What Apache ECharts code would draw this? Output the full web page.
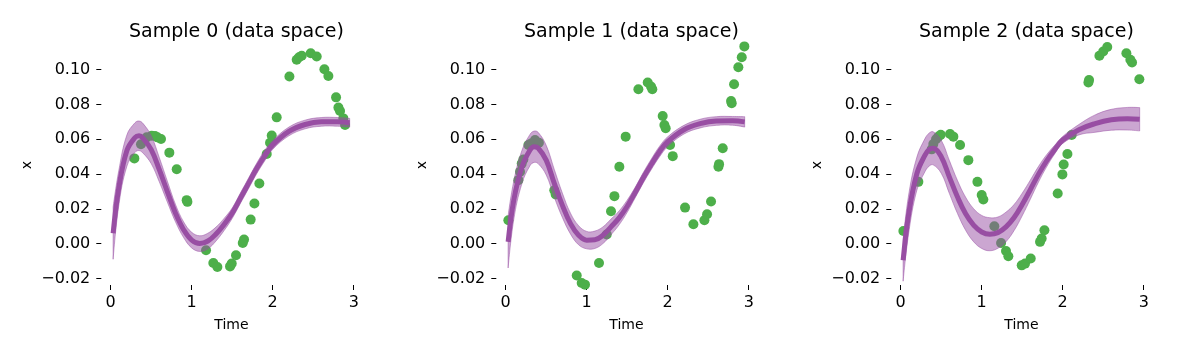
<!DOCTYPE html>
<html>
<head>
<meta charset="utf-8">
<script src="https://cdn.jsdelivr.net/npm/echarts@6/dist/echarts.min.js"></script>
<style>
  html, body { margin: 0; padding: 0; background: #fff; }
  #chart { width: 1200px; height: 338px; }
</style>
</head>
<body>
<div id="chart"></div>
<script>
// panel titles
const titles = ['Sample 0 (data space)', 'Sample 1 (data space)', 'Sample 2 (data space)']
// tick labels
const xTicks = [0, 1, 2, 3]
const yTicks = [-0.02, 0, 0.02, 0.04, 0.06, 0.08, 0.10]

// time grid of the fitted curve
const curveTime = [0.03, 0.1, 0.2, 0.3, 0.35, 0.4, 0.5, 0.6, 0.7, 0.8, 0.9, 1.0, 1.1, 1.2, 1.3, 1.4, 1.5, 1.6, 1.7, 1.8, 1.9, 2.0, 2.2, 2.4, 2.6, 2.8, 2.95]

// fitted mean + half width of the shaded band, per sample
const mean0 = [0.006, 0.032, 0.0535, 0.061, 0.062, 0.0605, 0.054, 0.0425, 0.0298, 0.0175, 0.008, 0.002, 0.0, 0.0015, 0.0055, 0.011, 0.0175, 0.026, 0.0345, 0.043, 0.0505, 0.0567, 0.0645, 0.0685, 0.070, 0.070, 0.0695]
const band0 = [0.015, 0.010, 0.009, 0.0085, 0.0085, 0.0085, 0.008, 0.007, 0.006, 0.005, 0.0045, 0.0045, 0.0045, 0.0045, 0.004, 0.0035, 0.003, 0.003, 0.003, 0.003, 0.003, 0.0025, 0.0025, 0.0025, 0.0025, 0.0025, 0.0025]
const mean1 = [0.001, 0.025, 0.044, 0.0538, 0.0557, 0.055, 0.048, 0.0346, 0.022, 0.0115, 0.0048, 0.002, 0.0022, 0.0048, 0.0096, 0.0148, 0.0215, 0.0295, 0.038, 0.0458, 0.053, 0.0586, 0.0655, 0.069, 0.0705, 0.0706, 0.070]
const band1 = [0.015, 0.011, 0.0095, 0.009, 0.009, 0.009, 0.0085, 0.008, 0.007, 0.006, 0.0055, 0.005, 0.005, 0.0048, 0.0045, 0.004, 0.0035, 0.003, 0.003, 0.003, 0.003, 0.0028, 0.0025, 0.0025, 0.0025, 0.0025, 0.003]
const mean2 = [-0.0096, 0.0175, 0.0403, 0.0509, 0.054, 0.0548, 0.050, 0.0384, 0.0269, 0.0173, 0.0106, 0.0067, 0.0054, 0.0063, 0.0096, 0.015, 0.0225, 0.031, 0.0398, 0.0475, 0.054, 0.0596, 0.0655, 0.069, 0.0712, 0.0718, 0.0715]
const band2 = [0.012, 0.011, 0.0095, 0.0095, 0.0095, 0.0095, 0.0095, 0.0095, 0.0095, 0.0095, 0.0095, 0.0095, 0.0095, 0.009, 0.0085, 0.0075, 0.0065, 0.0055, 0.0045, 0.0035, 0.0025, 0.002, 0.003, 0.005, 0.006, 0.0065, 0.0067]

// observations
const obsTime0 = [0.292, 0.374, 0.444, 0.506, 0.547, 0.576, 0.621, 0.724, 0.815, 0.938, 0.947, 1.177, 1.267, 1.317, 1.473, 1.494, 1.547, 1.63, 1.646, 1.728, 1.774, 1.835, 1.926, 1.967, 1.988, 2.049, 2.206, 2.296, 2.325, 2.358, 2.469, 2.543, 2.638, 2.687, 2.782, 2.811, 2.831, 2.872, 2.893]
const obsValue0 = [0.049, 0.0571, 0.0611, 0.062, 0.0619, 0.0611, 0.0601, 0.0523, 0.0428, 0.025, 0.024, -0.0038, -0.0111, -0.0134, -0.0131, -0.0115, -0.0067, 0.0004, 0.0023, 0.0138, 0.0231, 0.0346, 0.0515, 0.058, 0.0621, 0.0726, 0.0961, 0.1057, 0.1072, 0.108, 0.1095, 0.1076, 0.1003, 0.0964, 0.0841, 0.0782, 0.0763, 0.072, 0.0682]
const obsTime1 = [0.033, 0.156, 0.177, 0.198, 0.218, 0.28, 0.313, 0.362, 0.41, 0.60, 0.617, 0.877, 0.938, 0.979, 1.02, 1.152, 1.247, 1.30, 1.342, 1.403, 1.481, 1.638, 1.753, 1.794, 1.81, 1.938, 1.959, 1.975, 2.029, 2.062, 2.214, 2.317, 2.453, 2.486, 2.535, 2.626, 2.634, 2.679, 2.782, 2.79, 2.819, 2.872, 2.914, 2.946]
const obsValue1 = [0.0134, 0.0365, 0.0413, 0.046, 0.0484, 0.0567, 0.0576, 0.0596, 0.058, 0.0307, 0.0282, -0.0183, -0.0227, -0.0236, -0.024, -0.0111, 0.0052, 0.0186, 0.0273, 0.0442, 0.0615, 0.0888, 0.0926, 0.0903, 0.0888, 0.0734, 0.0682, 0.0663, 0.0567, 0.0503, 0.0207, 0.0111, 0.0134, 0.0169, 0.0242, 0.0442, 0.0457, 0.0548, 0.082, 0.0807, 0.0916, 0.1014, 0.1072, 0.1134]
const obsTime2 = [0.033, 0.218, 0.383, 0.403, 0.436, 0.465, 0.494, 0.609, 0.65, 0.733, 0.835, 0.947, 1.0, 1.02, 1.156, 1.239, 1.3, 1.329, 1.494, 1.535, 1.605, 1.72, 1.74, 1.774, 1.938, 1.996, 2.012, 2.058, 2.111, 2.317, 2.325, 2.453, 2.50, 2.55, 2.617, 2.65, 2.786, 2.835, 2.856, 2.946]
const obsValue2 = [0.0073, 0.0355, 0.0542, 0.0573, 0.060, 0.0615, 0.0626, 0.063, 0.0615, 0.0567, 0.048, 0.0355, 0.0279, 0.0254, 0.01, 0.0004, -0.0042, -0.0073, -0.0125, -0.0115, -0.0086, 0.001, 0.0029, 0.0077, 0.0288, 0.0398, 0.0455, 0.0515, 0.0624, 0.0926, 0.0941, 0.108, 0.1105, 0.113, 0.1143, 0.1143, 0.1095, 0.1057, 0.1041, 0.0945]

const means = [mean0, mean1, mean2]
const bands = [band0, band1, band2]
const obsTimes = [obsTime0, obsTime1, obsTime2]
const obsValues = [obsValue0, obsValue1, obsValue2]

const FONT = 'DejaVu Sans'
const GREEN = '#4daf4a'
const PURPLE = '#984ea3'
const BAND = 'rgba(152,78,163,0.5)'
const SMOOTH = 0.4

const chart = echarts.init(document.getElementById('chart'), null, { renderer: 'canvas' })

// same bezier smoothing as the line series, for the band outline (pixel points)
const smoothSegments = (pts, smooth) => {
    const n = pts.length
    const cps = pts.map((p, k) => {
        const prev = pts[Math.max(k - 1, 0)]
        const next = pts[Math.min(k + 1, n - 1)]
        const vx = next[0] - prev[0], vy = next[1] - prev[1]
        const d0 = Math.hypot(p[0] - prev[0], p[1] - prev[1])
        const d1 = Math.hypot(next[0] - p[0], next[1] - p[1])
        const r = d0 + d1 > 0 ? d1 / (d0 + d1) : 0.5
        const cin = k === n - 1 ? p : [p[0] - vx * smooth * (1 - r), p[1] - vy * smooth * (1 - r)]
        const cout = k === 0 ? p : [p[0] + vx * smooth * r, p[1] + vy * smooth * r]
        return [cin, cout]
    })
    let d = ''
    for (let k = 0; k < n - 1; k++) {
        const a = cps[k][1], b = cps[k + 1][0], q = pts[k + 1]
        d += ' C' + a[0] + ',' + a[1] + ' ' + b[0] + ',' + b[1] + ' ' + q[0] + ',' + q[1]
    }
    return d
}

const grids = [], xAxes = [], yAxes = [], series = [], titleList = []
const panelLeft = [101.3, 496.3, 891.3]
const panelWidth = 260.2

const fmtY = (v) => (v < 0 ? '\u2212' + Math.abs(v).toFixed(2) : v.toFixed(2))

panelLeft.forEach((left, i) => {
    grids.push({ left: left, width: panelWidth, top: 45, height: 240 })
    titleList.push({
        text: titles[i],
        left: left + panelWidth / 2,
        top: 18,
        textAlign: 'center',
        textStyle: { fontFamily: FONT, fontSize: 19, fontWeight: 'normal', color: '#000' }
    })
    xAxes.push({
        type: 'value', gridIndex: i, min: -0.116, max: 3.096,
        name: 'Time', nameLocation: 'middle', nameGap: 33,
        nameTextStyle: { fontFamily: FONT, fontSize: 14, color: '#000' },
        axisLine: { show: false, onZero: false },
        splitLine: { show: false },
        axisTick: { show: true, length: 5, customValues: xTicks, lineStyle: { color: '#000' } },
        axisLabel: { customValues: xTicks, margin: 10, fontFamily: FONT, fontSize: 16, color: '#000' }
    })
    yAxes.push({
        type: 'value', gridIndex: i, min: -0.0238, max: 0.1142,
        name: 'x', nameLocation: 'middle', nameGap: 67, nameRotate: 90,
        nameTextStyle: { fontFamily: FONT, fontSize: 14, color: '#000' },
        axisLine: { show: false, onZero: false },
        splitLine: { show: false },
        axisTick: { show: true, length: 5, customValues: yTicks, lineStyle: { color: '#000' } },
        axisLabel: { customValues: yTicks, margin: 11, fontFamily: FONT, fontSize: 16, color: '#000', formatter: fmtY }
    })
    // observations
    series.push({
        type: 'scatter', xAxisIndex: i, yAxisIndex: i, z: 2,
        symbolSize: 10, itemStyle: { color: GREEN, opacity: 1 },
        data: obsTimes[i].map((t, k) => [t, obsValues[i][k]])
    })
    // shaded band around the mean
    series.push({
        type: 'custom', xAxisIndex: i, yAxisIndex: i, z: 3, silent: true,
        data: [0],
        renderItem: (params, api) => {
            const upper = curveTime.map((t, k) => api.coord([t, means[i][k] + bands[i][k]]))
            const lower = curveTime.map((t, k) => api.coord([t, means[i][k] - bands[i][k]])).reverse()
            const d = 'M' + upper[0][0] + ',' + upper[0][1] + smoothSegments(upper, SMOOTH) +
                ' L' + lower[0][0] + ',' + lower[0][1] + smoothSegments(lower, SMOOTH) + ' Z'
            return {
                type: 'path',
                shape: { pathData: d },
                style: { fill: BAND, stroke: BAND, lineWidth: 1 }
            }
        }
    })
    // mean curve
    series.push({
        type: 'line', xAxisIndex: i, yAxisIndex: i, z: 4,
        smooth: SMOOTH, symbol: 'none',
        lineStyle: { width: 5, color: PURPLE },
        data: curveTime.map((t, k) => [t, means[i][k]])
    })
})

chart.setOption({
    animation: false,
    backgroundColor: '#fff',
    title: titleList,
    grid: grids,
    xAxis: xAxes,
    yAxis: yAxes,
    series: series
})
</script>
</body>
</html>
